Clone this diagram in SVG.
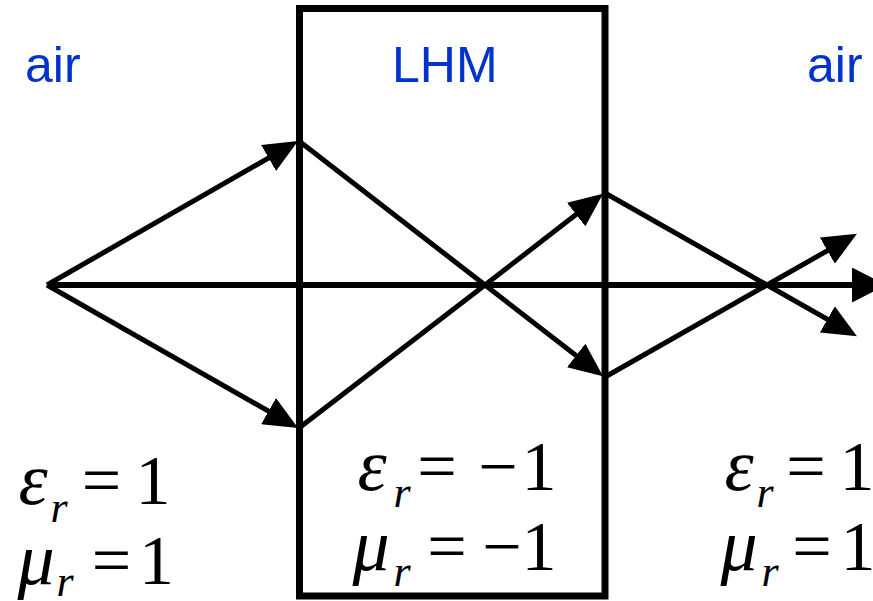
<svg xmlns="http://www.w3.org/2000/svg" width="873" height="601" viewBox="0 0 873 601">
<style>
.lbl{font-family:"Liberation Sans",Arial,sans-serif;font-size:50px;fill:#0033cc}
.m{font-family:"Liberation Serif","Times New Roman",serif;font-size:70px;fill:#000;text-anchor:middle}
.g{font-family:"Liberation Serif","Times New Roman",serif;font-size:74px;font-style:italic;fill:#000;text-anchor:middle}
.s{font-family:"Liberation Serif","Times New Roman",serif;font-size:44px;font-style:italic;fill:#000;text-anchor:middle}
.ray{fill:none;stroke:#000;stroke-width:5;stroke-linejoin:miter}
.axis{fill:none;stroke:#000;stroke-width:6}
</style>
<defs>
<marker id="ah" markerUnits="userSpaceOnUse" markerWidth="34" markerHeight="30" refX="26" refY="15" orient="auto" viewBox="0 0 34 30">
<path d="M0,0 L34,15 L0,30 Z" fill="#000"/>
</marker>
<marker id="ahb" markerUnits="userSpaceOnUse" markerWidth="34" markerHeight="35" refX="26" refY="17.5" orient="auto" viewBox="0 0 34 35">
<path d="M0,0 L34,17.5 L0,35 Z" fill="#000"/>
</marker>
</defs>
<rect width="873" height="601" fill="#fff"/>
<g id="lhm">
<rect x="299.5" y="8.5" width="305.5" height="587.5" fill="none" stroke="#000" stroke-width="7"/>
<text class="lbl" x="392" y="82">LHM</text>
</g>
<g id="air-left">
<text class="lbl" x="25" y="82">air</text>
</g>
<g id="air-right">
<text class="lbl" x="807" y="82">air</text>
</g>
<g id="connectors">
<line class="axis" x1="47" y1="285" x2="878" y2="285" marker-end="url(#ahb)"/>
<line class="ray" x1="47" y1="285" x2="291.1" y2="145" marker-end="url(#ah)"/>
<line class="ray" x1="47" y1="285" x2="291.1" y2="424" marker-end="url(#ah)"/>
<polyline class="ray" points="299,141 485,285 596.7,371.4" marker-end="url(#ah)"/>
<polyline class="ray" points="299,428 485,285 596.7,198.6" marker-end="url(#ah)"/>
<polyline class="ray" points="605,193 767,285 850,332.2" marker-end="url(#ah)"/>
<polyline class="ray" points="605,377 767,285 850,237.8" marker-end="url(#ah)"/>
</g>
<g id="params-left">
<text class="g" x="33" y="504">ε</text>
<text class="s" x="59" y="522">r</text>
<text class="m" x="101.5" y="504">=</text>
<text class="m" x="153" y="504">1</text>
<text class="g" x="36" y="584">μ</text>
<text class="s" x="65" y="596">r</text>
<text class="m" x="111.5" y="584">=</text>
<text class="m" x="156.5" y="584">1</text>
</g>
<g id="params-lhm">
<text class="g" x="372" y="490">ε</text>
<text class="s" x="402" y="507">r</text>
<text class="m" x="437" y="490">=</text>
<text class="m" x="498" y="490">−</text>
<text class="m" x="539" y="490">1</text>
<text class="g" x="371" y="570">μ</text>
<text class="s" x="402" y="586">r</text>
<text class="m" x="447" y="570">=</text>
<text class="m" x="502" y="570">−</text>
<text class="m" x="539" y="570">1</text>
</g>
<g id="params-right">
<text class="g" x="739" y="490">ε</text>
<text class="s" x="765" y="507">r</text>
<text class="m" x="806" y="490">=</text>
<text class="m" x="857" y="490">1</text>
<text class="g" x="739" y="570">μ</text>
<text class="s" x="770" y="586">r</text>
<text class="m" x="812" y="570">=</text>
<text class="m" x="858" y="570">1</text>
</g>
</svg>
